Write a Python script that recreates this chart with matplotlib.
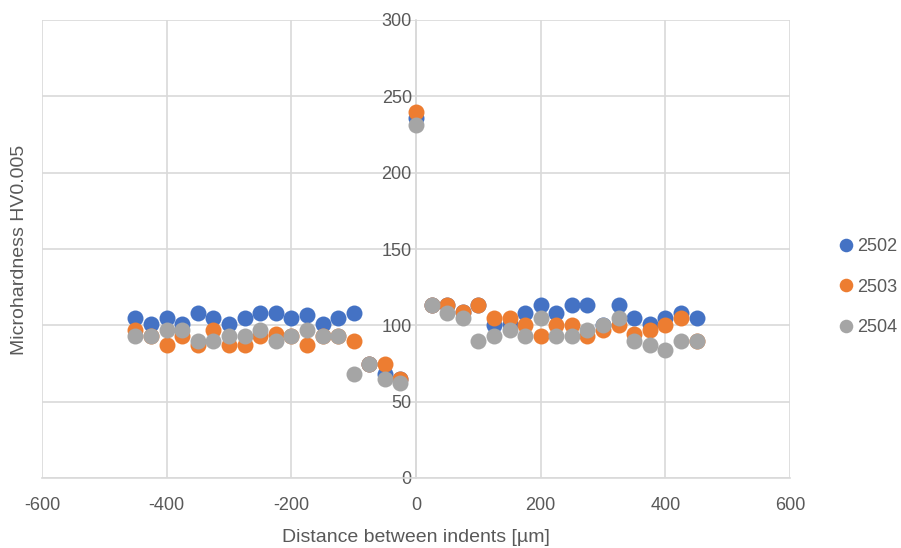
import numpy as np
import matplotlib
matplotlib.use("Agg")
import matplotlib.pyplot as plt

plt.rcParams['font.family'] = ['Liberation Sans', 'DejaVu Sans']
plt.rcParams['axes.unicode_minus'] = False

# indent positions in µm
distance = [-450, -425, -400, -375, -350, -325, -300, -275, -250, -225,
            -200, -175, -150, -125, -100, -75, -50, -25, 0,
            25, 50, 75, 100, 125, 150, 175, 200, 225, 250,
            275, 300, 325, 350, 375, 400, 425, 450]

hv_2502 = [105, 101, 105, 101, 108, 105, 101, 105, 108, 108,
           105, 107, 101, 105, 108, 75, 68, 65, 236,
           113, 113, 109, 113, 100, 101, 108, 113, 108, 113,
           113, 100, 113, 105, 101, 105, 108, 105]

hv_2503 = [97, 93, 87, 93, 87, 97, 87, 87, 93, 94,
           93, 87, 93, 93, 90, 75, 75, 65, 240,
           113, 113, 109, 113, 105, 105, 100, 93, 100, 100,
           93, 97, 100, 94, 97, 100, 105, 90]

hv_2504 = [93, 93, 97, 97, 90, 90, 93, 93, 97, 90,
           93, 97, 93, 93, 68, 75, 65, 62, 231,
           113, 108, 105, 90, 93, 97, 93, 105, 93, 93,
           97, 100, 105, 90, 87, 84, 90, 90]

series_names = ['2502', '2503', '2504']
colors = ['#4472C4', '#ED7D31', '#A5A5A5']
text_col = '#595959'
grid_col = '#D9D9D9'

fig = plt.figure(figsize=(9.01, 5.48), dpi=100)
ax = fig.add_axes([42/901, 1 - 478/548, (790-42)/901, (478-20)/548])

for vals, name, c in zip([hv_2502, hv_2503, hv_2504], series_names, colors):
    ax.plot(distance, vals, 'o', color=c, markersize=11.5, markeredgewidth=0,
            label=name, zorder=3)

ax.set_xlim(-600, 600)
ax.set_ylim(0, 300)
ax.set_xticks(np.arange(-600, 601, 200))
ax.set_yticks(np.arange(0, 301, 50))
ax.grid(True, color=grid_col, linewidth=1.2)
ax.set_axisbelow(True)

for s in ['top', 'right']:
    ax.spines[s].set_visible(False)
ax.spines['left'].set_position(('data', 0))
ax.spines['left'].set_color(grid_col)
ax.spines['left'].set_linewidth(1.2)
ax.spines['bottom'].set_color(grid_col)
ax.spines['bottom'].set_linewidth(1.2)

ax.tick_params(axis='both', length=0, labelsize=13, colors=text_col)
ax.tick_params(axis='x', pad=14)
ax.tick_params(axis='y', pad=3)

fig.text(20/901, 1 - 250/548, 'Microhardness HV0.005', rotation=90,
         ha='center', va='center', fontsize=14, color=text_col)
fig.text(416/901, 1 - 537/548, 'Distance between indents [µm]',
         ha='center', va='center', fontsize=14, color=text_col)

leg = fig.legend(loc='center left', bbox_to_anchor=(828/901, 1 - 287/548),
                 frameon=False, fontsize=13, labelspacing=1.3,
                 handletextpad=0.0, handlelength=1.2, borderaxespad=0,
                 markerscale=0.85)
for t in leg.get_texts():
    t.set_color(text_col)

fig.savefig('out.png', dpi=100)
